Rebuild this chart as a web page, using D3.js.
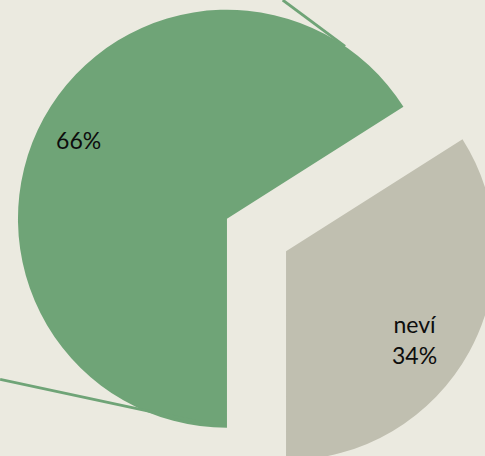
<!DOCTYPE html>
<html>
<head>
<meta charset="utf-8">
<script src="https://cdn.jsdelivr.net/npm/d3@7/dist/d3.min.js"></script>
<style>
  html, body { margin: 0; padding: 0; background: #ebeae0; }
  svg { display: block; }
</style>
</head>
<body>
<svg id="chart" width="485" height="456"></svg>
<script>
// Share of answers
const categories = ["ví", "neví"];
const values = [66, 34];
const valueLabels = ["66%", "34%"];
const showCategoryName = [false, true];

const colors = ["#6fa477", "#c0bfb0"];

const W = 485, H = 456;
const cx = 256.5, cy = 235;   // pie centre
const radius = 209;
const explode = 33.7;         // distance each slice is pulled out

const svg = d3.select("#chart");
svg.append("rect").attr("width", W).attr("height", H).attr("fill", "#ebeae0");

const pie = d3.pie().sort(null)
  .startAngle(Math.PI)
  .endAngle(3 * Math.PI);
const arcs = pie(values);

const arc = d3.arc().innerRadius(0).outerRadius(radius);

const root = svg.append("g").attr("transform", `translate(${cx},${cy})`);

function offsetOf(d) {
  const a = (d.startAngle + d.endAngle) / 2;
  return [Math.sin(a) * explode, -Math.cos(a) * explode];
}

const slices = root.selectAll("g.slice")
  .data(arcs)
  .join("g")
  .attr("class", "slice")
  .attr("transform", d => { const o = offsetOf(d); return `translate(${o[0]},${o[1]})`; });

slices.append("path")
  .attr("d", arc)
  .attr("fill", (d, i) => colors[i]);

// Leader lines of the first slice, running out to labels beyond the plot
// (angle in degrees clockwise from 12 o'clock, distance as a share of the radius)
const leaders = [
  { from: [14.3, 1.08], to: [34.4, 1.0] },
  { from: [234.7, 1.33], to: [188.9, 0.98] }
];
const polar = (deg, f) => {
  const a = deg * Math.PI / 180;
  return [Math.sin(a) * radius * f, -Math.cos(a) * radius * f];
};
const g0 = slices.filter((d, i) => i === 0);
g0.selectAll("line.leader")
  .data(leaders)
  .join("line")
  .attr("class", "leader")
  .attr("x1", d => polar(d.from[0], d.from[1])[0])
  .attr("y1", d => polar(d.from[0], d.from[1])[1])
  .attr("x2", d => polar(d.to[0], d.to[1])[0])
  .attr("y2", d => polar(d.to[0], d.to[1])[1])
  .attr("stroke", colors[0])
  .attr("stroke-width", 2.8);

// Data labels placed inside each slice
const labelPos = [
  { angle: 297.5, r: 0.8 },
  { angle: 124.9, r: 0.75 }
];
const lineGap = 31;
slices.each(function (d, i) {
  const p = polar(labelPos[i].angle, labelPos[i].r);
  const lines = showCategoryName[i] ? [categories[i], valueLabels[i]] : [valueLabels[i]];
  const t = d3.select(this).append("text")
    .attr("x", p[0])
    .attr("y", p[1])
    .attr("text-anchor", "middle")
    .attr("font-family", "Lato, 'Open Sans', sans-serif")
    .attr("font-size", 23)
    .attr("fill", "#0d0d0d");
  lines.forEach((s, k) => {
    t.append("tspan")
      .attr("x", p[0])
      .attr("y", p[1] + (k - (lines.length - 1) / 2) * lineGap)
      .attr("dy", "0.33em")
      .text(s);
  });
});
</script>
</body>
</html>
